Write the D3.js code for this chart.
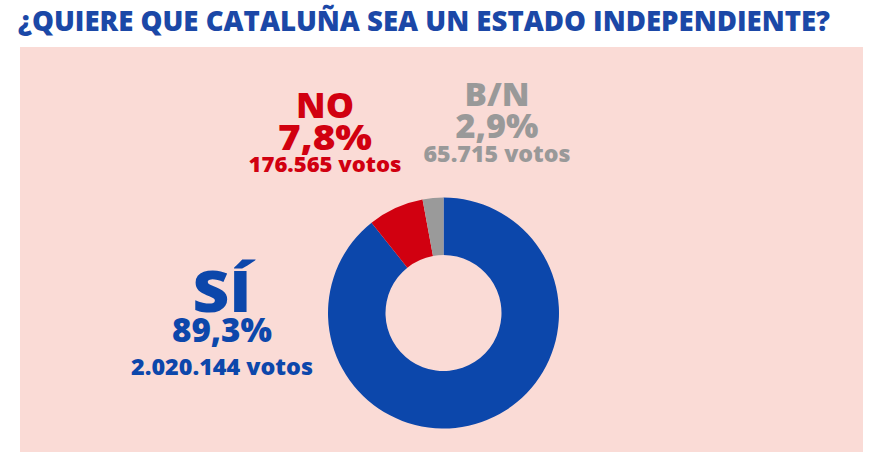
<!DOCTYPE html>
<html>
<head>
<meta charset="utf-8">
<script src="https://cdn.jsdelivr.net/npm/d3@7"></script>
<style>
  html, body { margin: 0; padding: 0; background: #ffffff; }
  svg { display: block; }
  text { font-family: "Open Sans", "Lato", sans-serif; }
</style>
</head>
<body>
<svg id="chart" width="888" height="469"></svg>
<script>
// ---- data ----
const title = "¿QUIERE QUE CATALUÑA SEA UN ESTADO INDEPENDIENTE?";
const categories = ["SÍ", "NO", "B/N"];
const percents = [89.3, 7.8, 2.9];
const votes = [2020144, 176565, 65715];
const colors = ["#0c47ab", "#d10010", "#9a9a9a"];

// ---- layout ----
const W = 888, H = 469;
const svg = d3.select("#chart");
const es = d3.formatLocale({decimal: ",", thousands: ".", grouping: [3], currency: ["", "€"]});
const fmtPct = v => es.format(".1f")(v) + "%";
const fmtVotes = v => es.format(",")(v) + " votos";

// title
svg.append("text")
  .attr("x", 18).attr("y", 31)
  .attr("font-size", 29).attr("font-weight", 800)
  .attr("fill", "#1b48a7")
  .attr("textLength", 812).attr("lengthAdjust", "spacingAndGlyphs")
  .text(title);

// panel
svg.append("rect")
  .attr("x", 20).attr("y", 47).attr("width", 843).attr("height", 405)
  .attr("fill", "#fadbd6");

// donut
const cx = 443.5, cy = 313, rOuter = 115.5, rInner = 58;
const pie = d3.pie().sort(null).value((d, i) => votes[i]);
const arcs = pie(categories);
const arc = d3.arc().innerRadius(rInner).outerRadius(rOuter);
svg.append("g").attr("transform", `translate(${cx},${cy})`)
  .selectAll("path").data(arcs).join("path")
  .attr("d", arc)
  .attr("fill", (d, i) => colors[i]);

// labels: position & sizes per slice (layout only)
const labelLayout = [
  {x: 222, lines: [{y: 312, size: 57, w: 59}, {y: 342, size: 34, w: 100}, {y: 375, size: 23, w: 182}]},
  {x: 325, lines: [{y: 118, size: 35, w: 58}, {y: 150, size: 35, w: 94}, {y: 172, size: 21, w: 153}]},
  {x: 497, lines: [{y: 106, size: 32, w: 65}, {y: 138, size: 33, w: 83}, {y: 162, size: 22, w: 147}]}
];

categories.forEach((c, i) => {
  const L = labelLayout[i];
  const texts = [c, fmtPct(percents[i]), fmtVotes(votes[i])];
  const g = svg.append("g");
  texts.forEach((t, j) => {
    g.append("text")
      .attr("x", L.x).attr("y", L.lines[j].y)
      .attr("text-anchor", "middle")
      .attr("font-size", L.lines[j].size)
      .attr("font-weight", 800)
      .attr("fill", colors[i] === "#9a9a9a" ? "#999999" : colors[i])
      .attr("textLength", L.lines[j].w).attr("lengthAdjust", "spacingAndGlyphs")
      .text(t);
  });
});
</script>
</body>
</html>
